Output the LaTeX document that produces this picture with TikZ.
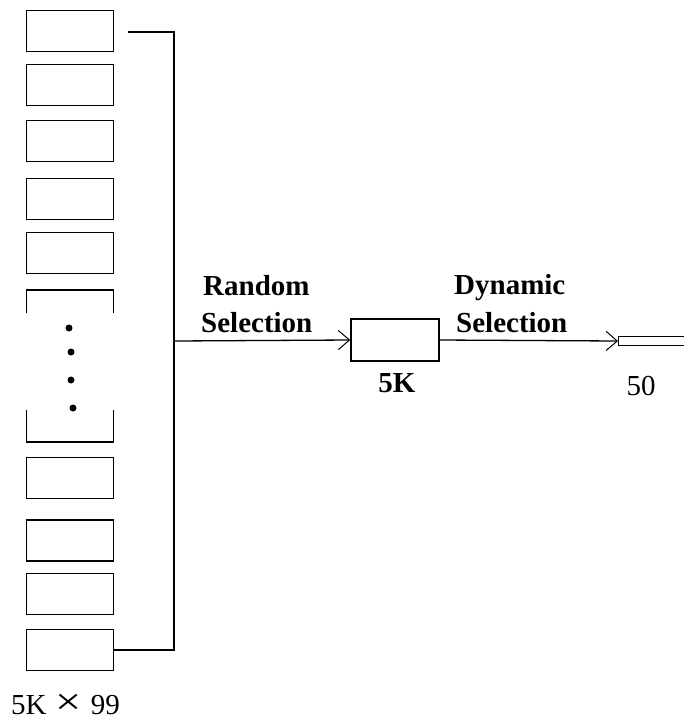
\documentclass[tikz,border=0pt]{standalone}
\usepackage{fontspec}
\setmainfont{Liberation Serif}
\usetikzlibrary{arrows.meta}
\begin{document}
\begin{tikzpicture}[x=1pt,y=-1pt,
  cell/.style={draw, line width=1.6pt, minimum width=87pt, minimum height=41pt, inner sep=0pt},
  cut/.style={line width=1.6pt},
  conn/.style={line width=1.3pt},
  tip/.style={-{Straight Barb[length=11pt,width=19pt,line width=1pt]}},
  lbl/.style={font=\fontsize{29}{34}\selectfont\bfseries, inner sep=0pt},
  num/.style={font=\fontsize{29}{34}\selectfont, inner sep=0pt},
  dot/.style={circle, fill, inner sep=0pt, minimum size=7pt}]
\useasboundingbox (0,0) rectangle (684,721);
\clip (0,0) rectangle (684,721);
% stacked boxes
\node[cell] (b1) at (70,31) {};
\node[cell] (b2) at (70,85) {};
\node[cell] (b3) at (70,141) {};
\node[cell] (b4) at (70,199) {};
\node[cell] (b5) at (70,253) {};
\node[cell] (b6) at (70,478) {};
\node[cell] (b7) at (70,540.5) {};
\node[cell] (b8) at (70,594) {};
\node[cell] (b9) at (70,650) {};
% broken box
\draw[cut] (26.5,313) -- (26.5,289.8) -- (113.5,289.8) -- (113.5,313);
\draw[cut] (26.5,410) -- (26.5,442.2) -- (113.5,442.2) -- (113.5,410);
\node[dot] (d1) at (69,328) {};
\node[dot] (d2) at (71,352) {};
\node[dot] (d3) at (71,380) {};
\node[dot] (d4) at (73,408) {};
% collector
\coordinate (s) at (128,32);
\coordinate (tr) at (174,32);
\coordinate (mid) at (174,341);
\draw[conn] (s) -- (tr) |- (b9.east);
% middle box and thin box
\node[cell, minimum width=88pt, minimum height=42pt] (k5) at (395,340) {};
\node[draw, line width=1.3pt, minimum width=90pt, minimum height=9pt, inner sep=0pt, anchor=west] (f50) at (618,341) {};
\draw[conn, tip] (mid) -- (k5.west);
\draw[conn, tip] (k5.east) -- (f50.west);
% labels
\node[lbl, anchor=base west] (r1) at (203,295) {Random};
\node[lbl, anchor=base west] (r2) at (201,332) {Selection};
\node[lbl, anchor=base west] (y1) at (454,294) {Dynamic};
\node[lbl, anchor=base west] (y2) at (456,332) {Selection};
\node[lbl, anchor=base] (l5k) at (397,392) {5K};
\node[num, anchor=base] (l50) at (641,395) {50};
\node[num, anchor=base west] (ltot) at (11,714) {5K\hspace{9pt}\scalebox{1.6}[1.3]{×}\hspace{9pt}99};
\end{tikzpicture}
\end{document}
